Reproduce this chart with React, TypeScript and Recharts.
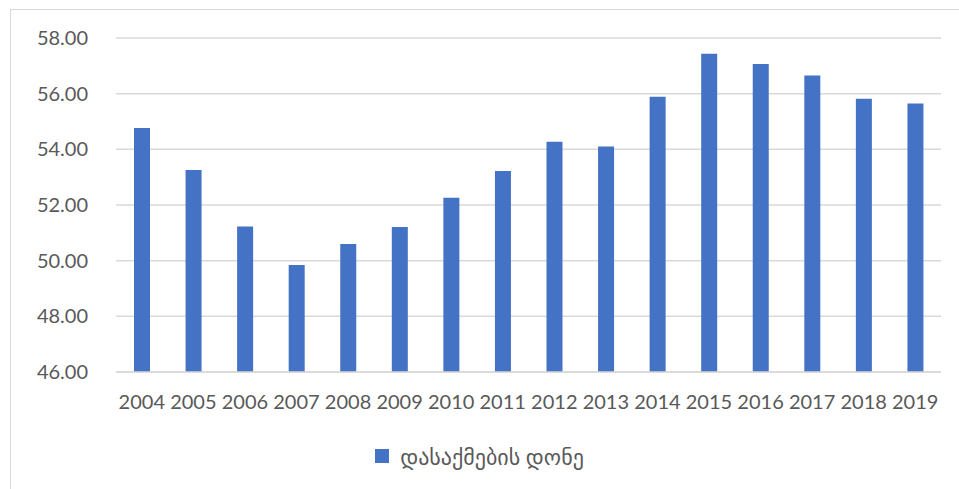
import React from 'react';
import { BarChart, Bar, XAxis, YAxis, CartesianGrid, Legend } from 'recharts';

const years = [
  '2004', '2005', '2006', '2007', '2008', '2009', '2010', '2011',
  '2012', '2013', '2014', '2015', '2016', '2017', '2018', '2019',
];
const employmentRate = [
  54.77, 53.26, 51.23, 49.84, 50.6, 51.21, 52.26, 53.22,
  54.27, 54.1, 55.89, 57.43, 57.07, 56.65, 55.82, 55.65,
];
const yTicks = [46, 48, 50, 52, 54, 56, 58];
const seriesName = 'დასაქმების დონე';

const data = years.map((year, i) => ({ year, value: employmentRate[i] }));

const FONT = "Lato, 'DejaVu Sans', sans-serif";
const TEXT = '#595959';
const BAR = '#4472C4';

const LegendBox = () => (
  <div
    style={{
      display: 'flex',
      justifyContent: 'center',
      alignItems: 'center',
      fontFamily: FONT,
      fontSize: 22,
      color: TEXT,
      height: 26,
    }}
  >
    <span
      style={{ width: 14, height: 14, background: BAR, display: 'inline-block', marginRight: 11 }}
    />
    <span>{seriesName}</span>
  </div>
);

const App: React.FC = () => (
  <div
    style={{
      position: 'absolute',
      left: 0,
      top: 0,
      width: 959,
      height: 489,
      overflow: 'hidden',
      background: '#fff',
    }}
  >
    <div
      style={{
        position: 'absolute',
        left: 10,
        top: 9,
        width: 980,
        height: 500,
        border: '1px solid #d9d9d9',
      }}
    />
    <BarChart
      width={959}
      height={489}
      data={data}
      margin={{ top: 38, right: 18, left: 36, bottom: 44 }}
      style={{ position: 'absolute', left: 0, top: 0 }}
    >
      <CartesianGrid vertical={false} stroke="#d9d9d9" strokeWidth={1.5} />
      <XAxis
        dataKey="year"
        axisLine={{ stroke: '#d9d9d9', strokeWidth: 1.5 }}
        tickLine={false}
        tickSize={0}
        tickMargin={23}
        interval={0}
        height={47}
        tick={{ fill: TEXT, fontSize: 20, fontFamily: FONT }}
      />
      <YAxis
        domain={[46, 58]}
        ticks={yTicks}
        allowDataOverflow
        axisLine={false}
        tickLine={false}
        tickSize={0}
        tickMargin={28}
        width={80}
        tickFormatter={(v: number) => v.toFixed(2)}
        tick={{ fill: TEXT, fontSize: 20, fontFamily: FONT }}
      />
      <Legend content={<LegendBox />} wrapperStyle={{ top: 443, left: 0, width: 959 }} />
      <Bar dataKey="value" name={seriesName} fill={BAR} barSize={16} isAnimationActive={false} />
    </BarChart>
  </div>
);

export default App;
